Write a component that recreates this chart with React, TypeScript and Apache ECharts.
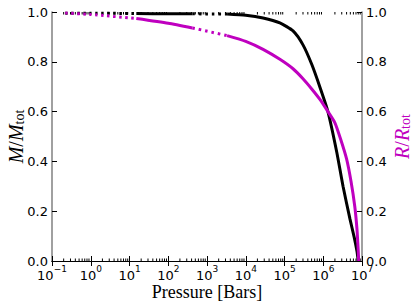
import React, { useEffect, useRef } from "react";
import * as echarts from "echarts";

// Pressure samples [bar] for M/Mtot
const pressureM = [
  0.22, 1, 15, 100, 420, 1150, 3300, 1.0e4, 2.8e4, 7.6e4, 1.66e5, 3.0e5, 5.1e5,
  8.3e5, 1.32e6, 2.24e6, 3.24e6, 4.9e6, 6.3e6, 7.4e6, 8.0e6,
];
// Enclosed mass fraction M/Mtot
const massFrac = [
  0.995, 0.995, 0.994, 0.993, 0.993, 0.992, 0.992, 0.987, 0.976, 0.956, 0.924,
  0.868, 0.788, 0.696, 0.6, 0.436, 0.3, 0.168, 0.095, 0.04, 0.0,
];
// Pressure samples [bar] for R/Rtot
const pressureR = [
  0.22, 1, 15, 100, 420, 1150, 3300, 1.0e4, 2.8e4, 7.6e4, 1.66e5, 3.0e5, 5.1e5,
  8.3e5, 1.32e6, 2.0e6, 2.8e6, 4.0e6, 5.2e6, 6.5e6, 7.4e6, 8.0e6, 8.2e6,
];
// Radius fraction R/Rtot
const radiusFrac = [
  0.996, 0.99, 0.974, 0.955, 0.936, 0.921, 0.905, 0.882, 0.85, 0.81, 0.772,
  0.732, 0.69, 0.648, 0.6, 0.555, 0.49, 0.41, 0.32, 0.22, 0.13, 0.04, 0.0,
];
// Line style changes at these pressures
const styleBreaks = [15, 420, 3300];

const xTickExponents = [-1, 0, 1, 2, 3, 4, 5, 6, 7];
const yTicks = [0, 0.2, 0.4, 0.6, 0.8, 1.0];
const minorDecades = [0.1, 1, 10, 100, 1e3, 1e4, 1e5, 1e6];
const minorMultipliers = [2, 3, 4, 5, 6, 7, 8, 9];

const BLACK = "#000000";
const MAGENTA = "#bf00bf";

function segment(px: number[], vals: number[], lo: number, hi: number) {
  const out: number[][] = [];
  px.forEach((p, i) => {
    if (p >= lo && p <= hi) out.push([p, vals[i]]);
  });
  return out;
}

function curveSeries(px: number[], vals: number[], color: string, yAxisIndex: number) {
  const bounds = [0, ...styleBreaks, Infinity];
  const types: any[] = [[2.5, 3.5], "solid", [2.5, 4], "solid"];
  return types.map((t, k) => ({
    type: "line",
    xAxisIndex: 0,
    yAxisIndex,
    data: segment(px, vals, bounds[k], bounds[k + 1]),
    showSymbol: false,
    symbol: "none",
    smooth: 0.2,
    lineStyle: { color, width: 3, type: t },
    z: yAxisIndex === 1 ? 4 : 3,
    silent: true,
  }));
}

const tickFont = "DejaVu Sans";
const serif = "'Liberation Serif', 'DejaVu Serif', serif";

function nameRich(color: string) {
  return {
    color,
    rich: {
      i: { fontFamily: serif, fontStyle: "italic", fontSize: 20, lineHeight: 24, color, verticalAlign: "bottom" },
      n: { fontFamily: serif, fontSize: 20, lineHeight: 24, color, verticalAlign: "bottom" },
      s: { fontFamily: serif, fontSize: 14, lineHeight: 13, color, verticalAlign: "bottom" },
    },
  };
}

export default function App() {
  const ref = useRef<HTMLDivElement>(null);
  useEffect(() => {
    if (!ref.current) return;
    const chart = echarts.init(ref.current, null, { renderer: "svg" });
    const minorData: number[][] = [];
    minorDecades.forEach((d) => minorMultipliers.forEach((m) => minorData.push([d * m, 0])));

    const xLabel = {
      formatter: (v: number) => {
        const e = Math.round(Math.log10(v));
        if (!xTickExponents.includes(e)) return "";
        return `{b|10}{s|${e < 0 ? "\u2212" + -e : e}}`;
      },
      margin: 3,
      rich: {
        b: { fontFamily: tickFont, fontSize: 13, lineHeight: 18, color: "#000", verticalAlign: "bottom" },
        s: { fontFamily: tickFont, fontSize: 9, lineHeight: 9, color: "#000", verticalAlign: "top" },
      },
    };
    const yLabel = {
      formatter: (v: number) => (yTicks.some((t) => Math.abs(t - v) < 1e-6) ? v.toFixed(1) : ""),
      fontFamily: tickFont,
      fontSize: 13,
      color: "#000",
      margin: 4,
    };

    chart.setOption({
      animation: false,
      backgroundColor: "#ffffff",
      grid: { left: 52, right: 53, top: 12, bottom: 47, outerBoundsMode: "none", containLabel: false },
      xAxis: [
        {
          type: "log",
          logBase: 10,
          min: 0.1,
          max: 1e7,
          splitNumber: 8,
          position: "bottom",
          axisLine: { show: true, lineStyle: { color: "#000", width: 1 } },
          axisTick: { show: true, inside: true, length: 5, lineStyle: { color: "#000" } },
          axisLabel: xLabel,
          splitLine: { show: false },
          name: "Pressure [Bars]",
          nameLocation: "middle",
          nameGap: 22,
          nameMoveOverlap: false,
          nameTextStyle: { fontFamily: serif, fontSize: 18, color: "#000" },
        },
        {
          type: "log",
          logBase: 10,
          min: 0.1,
          max: 1e7,
          splitNumber: 8,
          position: "top",
          axisLine: { show: true, lineStyle: { color: "#000", width: 1 } },
          axisTick: { show: true, inside: true, length: 5, lineStyle: { color: "#000" } },
          axisLabel: { show: false },
          splitLine: { show: false },
        },
      ],
      yAxis: [
        {
          type: "value",
          min: 0,
          max: 1,
          interval: 0.2,
          position: "left",
          axisLine: { show: true, lineStyle: { color: "#808080", width: 1.5 } },
          axisTick: { show: true, inside: true, length: 5, lineStyle: { color: "#000" } },
          axisLabel: yLabel,
          splitLine: { show: false },
          name: "{i|M}{n|/}{i|M}{s|tot}",
          nameLocation: "middle",
          nameRotate: 90,
          nameGap: 26,
          nameMoveOverlap: false,
          nameTextStyle: nameRich(BLACK),
        },
        {
          type: "value",
          min: 0,
          max: 1,
          interval: 0.2,
          position: "right",
          axisLine: { show: true, lineStyle: { color: "#808080", width: 1.5 } },
          axisTick: { show: true, inside: true, length: 5, lineStyle: { color: "#000" } },
          axisLabel: yLabel,
          splitLine: { show: false },
          name: "{i|R}{n|/}{i|R}{s|tot}",
          nameLocation: "middle",
          nameRotate: 90,
          nameGap: 26,
          nameMoveOverlap: false,
          nameTextStyle: nameRich(MAGENTA),
        },
      ],
      series: [
        {
          type: "custom",
          xAxisIndex: 0,
          yAxisIndex: 0,
          silent: true,
          clip: false,
          data: minorData,
          encode: { x: 0, y: 1 },
          renderItem: (_p: any, api: any) => {
            const v = api.value(0);
            const b = api.coord([v, 0]);
            const t = api.coord([v, 1]);
            return {
              type: "group",
              children: [
                { type: "line", shape: { x1: b[0], y1: b[1], x2: b[0], y2: b[1] - 2.5 }, style: { stroke: "#000", lineWidth: 1 } },
                { type: "line", shape: { x1: t[0], y1: t[1], x2: t[0], y2: t[1] + 2.5 }, style: { stroke: "#000", lineWidth: 1 } },
              ],
            };
          },
        },
        ...curveSeries(pressureM, massFrac, BLACK, 0),
        ...curveSeries(pressureR, radiusFrac, MAGENTA, 1),
      ],
    });
    return () => chart.dispose();
  }, []);
  return (
    <div
      ref={ref}
      style={{ position: "absolute", left: 0, top: 0, width: 415, height: 308, background: "#fff" }}
    />
  );
}
